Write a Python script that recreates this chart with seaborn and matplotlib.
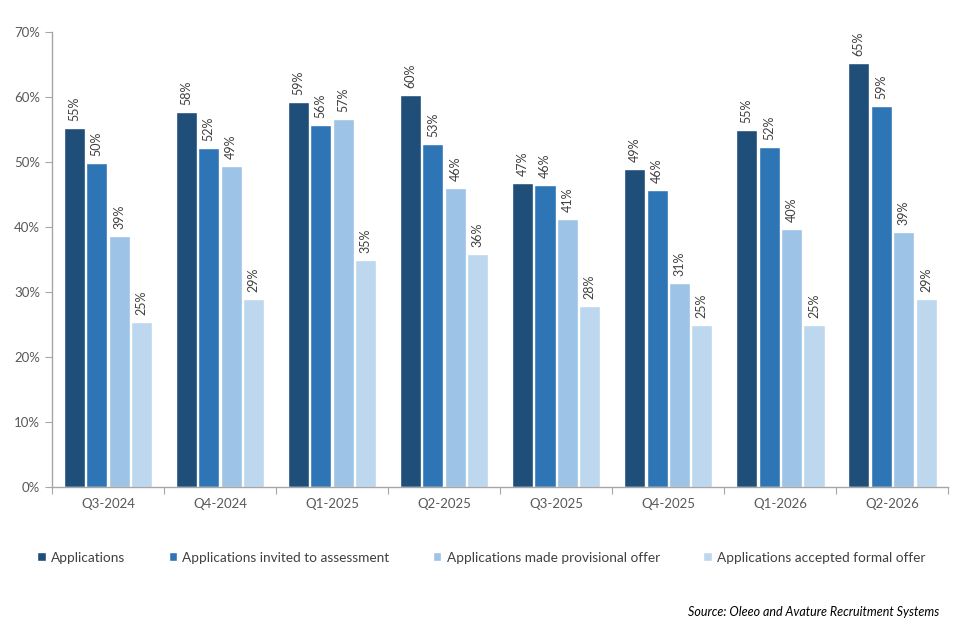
import matplotlib
matplotlib.use("Agg")
import matplotlib.pyplot as plt
import seaborn as sns
import pandas as pd
from matplotlib.ticker import FuncFormatter

quarters = ["Q3-2024", "Q4-2024", "Q1-2025", "Q2-2025",
            "Q3-2025", "Q4-2025", "Q1-2026", "Q2-2026"]
applications = [55.3, 57.7, 59.2, 60.3, 46.8, 48.9, 54.9, 65.2]
invited = [49.8, 52.2, 55.7, 52.8, 46.5, 45.7, 52.3, 58.6]
provisional = [38.6, 49.4, 56.6, 46.0, 41.2, 31.4, 39.7, 39.2]
formal = [25.4, 28.9, 34.9, 35.8, 27.8, 24.9, 24.9, 28.9]

series = ["Applications", "Applications invited to assessment",
          "Applications made provisional offer", "Applications accepted formal offer"]
colors = ["#1F4E79", "#2E75B6", "#9DC3E6", "#BDD7EE"]

rows = []
for name, vals in zip(series, [applications, invited, provisional, formal]):
    for q, v in zip(quarters, vals):
        rows.append({"quarter": q, "series": name, "value": v})
df = pd.DataFrame(rows)

sns.set_style("white")
plt.rcParams['font.family'] = ['Lato', 'DejaVu Sans']

fig = plt.figure(figsize=(9.6, 6.4), dpi=100)
ax = fig.add_axes([0.054, 0.239, 0.934, 0.711])

sns.barplot(data=df, x="quarter", y="value", hue="series", palette=colors,
            saturation=1, width=0.8, gap=0.06, ax=ax, legend=True)

for cont in ax.containers:
    ax.bar_label(cont, fmt="%.0f%%", rotation=90, padding=5,
                 fontsize=9, color="#404040")

ax.set_ylim(0, 70)
ax.set_yticks(range(0, 71, 10))
ax.yaxis.set_major_formatter(FuncFormatter(lambda v, p: f"{v:.0f}%"))
ax.set_xlim(-0.5, len(quarters) - 0.5)
ax.set_xlabel("")
ax.set_ylabel("")

# category separators on x axis
ax.set_xticks([i - 0.5 for i in range(len(quarters) + 1)], minor=False)
ax.set_xticklabels([""] * (len(quarters) + 1))
ax.set_xticks(range(len(quarters)), minor=True)
ax.set_xticklabels(quarters, minor=True)
ax.tick_params(axis="x", which="major", length=5, direction="out", color="#A6A6A6",
               bottom=True)
ax.tick_params(axis="x", which="minor", length=0, labelsize=9.5, labelcolor="#595959",
               pad=8)
ax.tick_params(axis="y", length=5, direction="out", color="#A6A6A6", left=True,
               labelsize=9.5, labelcolor="#595959")

for side in ["top", "right"]:
    ax.spines[side].set_visible(False)
for side in ["left", "bottom"]:
    ax.spines[side].set_color("#A6A6A6")
    ax.spines[side].set_linewidth(1)

handles, labels = ax.get_legend_handles_labels()
ax.legend(handles, labels, loc="center", bbox_to_anchor=(0.479, -0.155), ncol=4,
          frameon=False, fontsize=9.8, handlelength=0.6, handleheight=0.6,
          handletextpad=0.4, columnspacing=3.2, labelcolor="#404040")

fig.text(0.978, 0.043, "Source: Oleeo and Avature Recruitment Systems",
         ha="right", va="center", fontsize=9, style="italic", color="#000000")

fig.savefig("out.png", dpi=100)
